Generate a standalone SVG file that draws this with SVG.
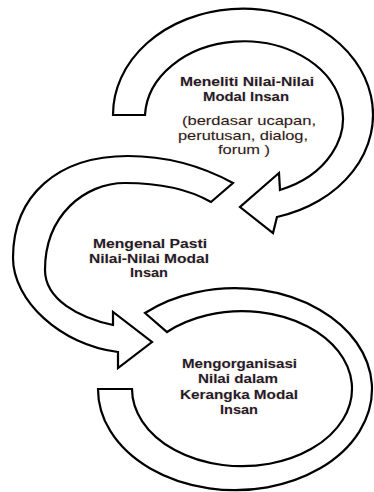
<svg xmlns="http://www.w3.org/2000/svg" width="374" height="492" viewBox="0 0 374 492">
<style>
.arr{fill:#ffffff;stroke:#000000;stroke-width:2.2;stroke-linejoin:miter}
text{font-family:"Liberation Sans",Arial,sans-serif;text-anchor:middle;fill:#1c1c38;paint-order:stroke;stroke:#f3d29a;stroke-width:1;stroke-opacity:0.6}
.b{font-weight:bold;font-size:13.5px}
.r{font-size:13px}
</style>
<rect width="374" height="492" fill="#ffffff"/>
<g id="connectors">
<path id="arrow-top" class="arr" d="M113,115 A130,106 0 1 1 277,217 L273,233 L240,207 L279,173 L280,190 A99,77 0 1 0 145,115 Z"/>
<path id="arrow-middle" class="arr" d="M233,183 C200,165 165,156 128,156 C58,156 13,195 13,258 C13,300 60,345 118,352 L118,368 L152,342 L113,312 L113,325 C80,318 45,300 45,270 C45,215 85,183 125,183 C160,183 190,190 211,202 Z"/>
<path id="arrow-bottom" class="arr" d="M145,313 A137,101 0 1 1 98,389 L132,389 A110,77.5 0 1 0 167,332 Z"/>
</g>
<g id="node-meneliti">
<text class="b" x="247" y="86" textLength="134" lengthAdjust="spacingAndGlyphs">Meneliti Nilai-Nilai</text>
<text class="b" x="246" y="101" textLength="86" lengthAdjust="spacingAndGlyphs">Modal Insan</text>
<text class="r" x="249" y="125" textLength="134" lengthAdjust="spacingAndGlyphs">(berdasar ucapan,</text>
<text class="r" x="243" y="140" textLength="130" lengthAdjust="spacingAndGlyphs">perutusan, dialog,</text>
<text class="r" x="244" y="154" textLength="52" lengthAdjust="spacingAndGlyphs">forum )</text>
</g>
<g id="node-mengenal">
<text class="b" x="150" y="248" textLength="114" lengthAdjust="spacingAndGlyphs">Mengenal Pasti</text>
<text class="b" x="149" y="263" textLength="120" lengthAdjust="spacingAndGlyphs">Nilai-Nilai Modal</text>
<text class="b" x="149" y="277" textLength="38" lengthAdjust="spacingAndGlyphs">Insan</text>
</g>
<g id="node-mengorganisasi">
<text class="b" x="239.5" y="368" textLength="115" lengthAdjust="spacingAndGlyphs">Mengorganisasi</text>
<text class="b" x="238" y="383" textLength="80" lengthAdjust="spacingAndGlyphs">Nilai dalam</text>
<text class="b" x="239" y="399" textLength="118" lengthAdjust="spacingAndGlyphs">Kerangka Modal</text>
<text class="b" x="239" y="414" textLength="38" lengthAdjust="spacingAndGlyphs">Insan</text>
</g>
</svg>
